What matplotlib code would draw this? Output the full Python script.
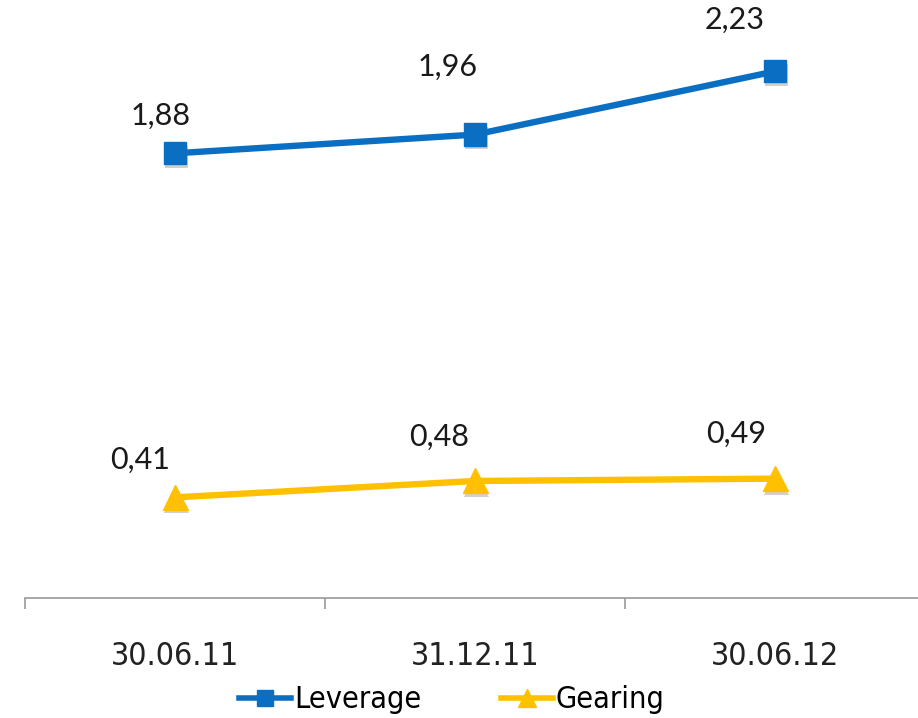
import matplotlib
matplotlib.use("Agg")
import matplotlib.pyplot as plt
import matplotlib.patheffects as pe

# data
dates = ["30.06.11", "31.12.11", "30.06.12"]
leverage = [1.88, 1.96, 2.23]
gearing = [0.41, 0.48, 0.49]

blue = "#0A6FC2"
yellow = "#FFC000"
lab_font = ["DejaVu Sans"]
num_font = ["Lato", "DejaVu Sans"]

fig = plt.figure(figsize=(9.18, 7.18), dpi=100)
ax = fig.add_axes([25 / 918, 120 / 718, 900 / 918, 598 / 718])

x = list(range(len(dates)))
mshadow = [pe.SimplePatchShadow(offset=(1, -2.5), shadow_rgbFace="0.4", alpha=0.3), pe.Normal()]

# lines, then markers on top with a soft shadow
ax.plot(x, leverage, color=blue, lw=4.6, zorder=3)
ax.plot(x, gearing, color=yellow, lw=4.6, zorder=3)
ax.plot(x, leverage, ls="none", color=blue, marker="s", ms=16, zorder=4,
        path_effects=mshadow)
ax.plot(x, gearing, ls="none", color=yellow, marker="^", ms=18, zorder=4,
        path_effects=mshadow)
# legend handles
ax.plot([], [], color=blue, lw=4.0, marker="s", ms=11, label="Leverage")
ax.plot([], [], color=yellow, lw=4.0, marker="^", ms=13, label="Gearing")

# data labels (Excel-ish offsets, points)
lev_off = [(-10, 27), (-20, 49), (-29, 37)]
gear_off = [(-25, 27), (-26, 32), (-28, 32)]
for i in x:
    ax.annotate(f"{leverage[i]:.2f}".replace(".", ","), (x[i], leverage[i]),
                xytext=lev_off[i], textcoords="offset points",
                ha="center", va="center", fontsize=22, color="#1a1a1a",
                family=num_font)
    ax.annotate(f"{gearing[i]:.2f}".replace(".", ","), (x[i], gearing[i]),
                xytext=gear_off[i], textcoords="offset points",
                ha="center", va="center", fontsize=22, color="#1a1a1a",
                family=num_font)

ax.set_xlim(-0.5, 2.5)
ax.set_ylim(-0.02, 2.535)
ax.set_yticks([])
for s in ["top", "right", "left"]:
    ax.spines[s].set_visible(False)
ax.spines["bottom"].set_color("#9a9a9a")
ax.spines["bottom"].set_linewidth(1.2)

ax.set_xticks([-0.5, 0.5, 1.5, 2.5])
ax.set_xticklabels([])
ax.set_xticks(x, minor=True)
ax.set_xticklabels(dates, minor=True, fontsize=23, family=lab_font,
                   fontstretch="condensed", color="#222222")
ax.tick_params(axis="x", which="major", length=8, width=1.2, color="#9a9a9a")
ax.tick_params(axis="x", which="minor", length=0, pad=31)

leg = fig.legend(loc="center", bbox_to_anchor=(452 / 918, 1 - 700 / 718), ncol=2,
                 frameon=False,
                 prop={"family": lab_font, "size": 22, "stretch": "condensed"},
                 handlelength=1.7, handletextpad=0.1, columnspacing=2.6,
                 borderaxespad=0)

fig.savefig("out.png", dpi=100)
